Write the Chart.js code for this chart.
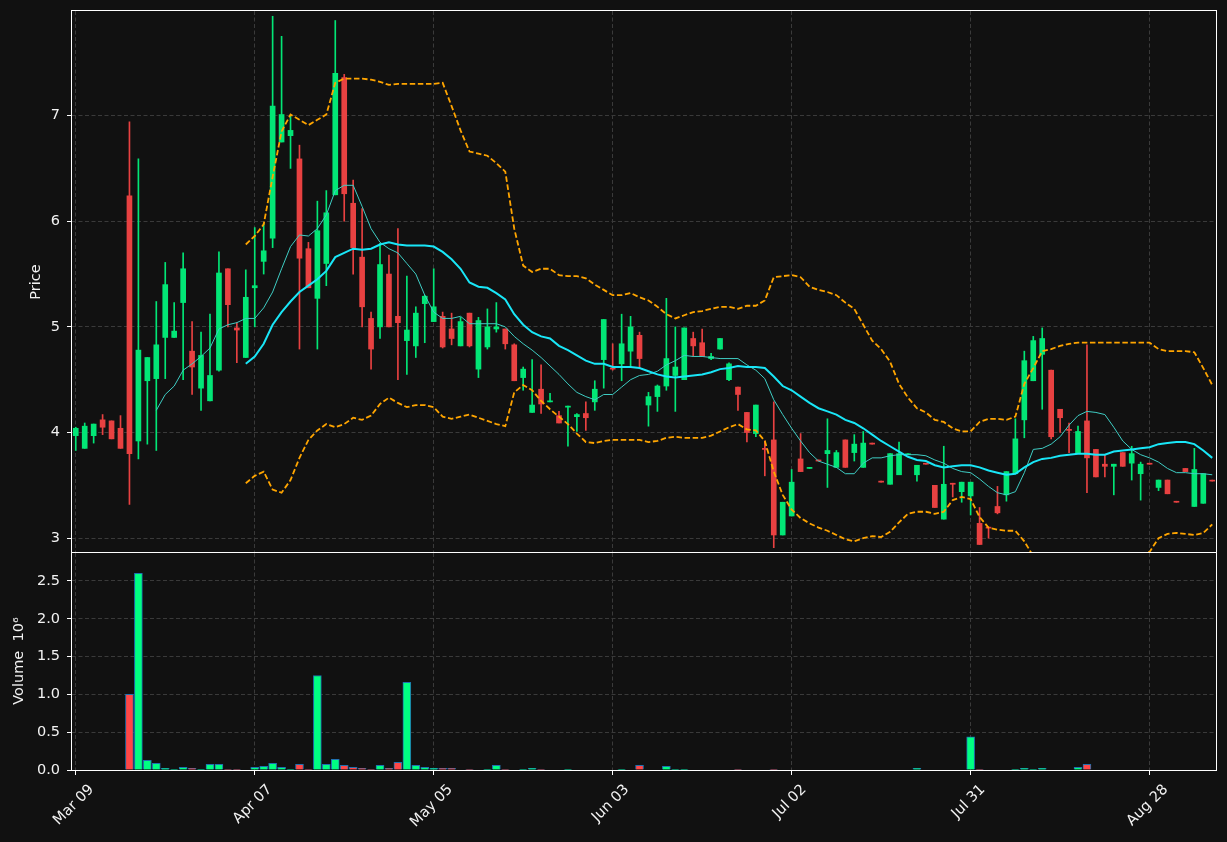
<!DOCTYPE html>
<html>
<head>
<meta charset="utf-8">
<script src="https://cdn.jsdelivr.net/npm/chart.js@4.4.0/dist/chart.umd.min.js"></script>
<style>
  html, body { margin: 0; padding: 0; background: #111111; }
  #wrap { position: relative; width: 1227px; height: 842px; background: #111111; overflow: hidden; }
  #priceChart { position: absolute; left: 0; top: 0; }
  #volChart { position: absolute; left: 0; top: 553px; }
</style>
</head>
<body>
<div id="wrap">
  <canvas id="priceChart" width="1227" height="553"></canvas>
  <canvas id="volChart" width="1227" height="289"></canvas>
</div>
<script>
// x tick positions (bar index) and their date labels
const tickIdx = [0, 20, 40, 60, 80, 100, 120]
const tickLabels = ['Mar 09', 'Apr 07', 'May 05', 'Jun 03', 'Jul 02', 'Jul 31', 'Aug 28']

// daily OHLC, one entry per trading day (index 0 = Mar 09)
const opens = [
  3.97, 3.85, 3.97, 4.12, 4.11, 4.04, 6.24, 3.92, 4.49, 4.51,
  4.90, 4.90, 5.23, 4.77, 4.42, 4.30, 4.59, 5.55, 4.99, 4.71,
  5.37, 5.62, 5.84, 6.75, 6.81, 6.59, 5.74, 5.27, 5.60, 6.25,
  7.36, 6.17, 5.66, 5.08, 5.00, 5.50, 5.10, 4.87, 4.82, 5.22,
  5.05, 5.10, 4.98, 4.82, 5.13, 4.60, 4.81, 4.98, 4.98, 4.83,
  4.52, 4.19, 4.41, 4.29, 4.16, 4.24, 4.15, 4.18, 4.29, 4.69,
  4.61, 4.65, 4.77, 4.92, 4.26, 4.34, 4.44, 4.54, 4.50, 4.89,
  4.85, 4.70, 4.79, 4.50, 4.43, 4.19, 3.99, 3.85, 3.93, 3.03,
  3.21, 3.75, 3.66, 3.74, 3.80, 3.67, 3.93, 3.81, 3.67, 3.90,
  3.54, 3.51, 3.60, 3.79, 3.60, 3.705, 3.50, 3.18, 3.52, 3.44,
  3.40, 3.14, 3.10, 3.30, 3.41, 3.61, 4.12, 4.49, 4.74, 4.59,
  4.22, 4.03, 3.80, 4.11, 3.84, 3.70, 3.68, 3.81, 3.71, 3.61,
  3.705, 3.48, 3.55, 3.345, 3.66, 3.30, 3.33, 3.545
]
const highs = [
  4.05, 4.09, 4.08, 4.17, 4.11, 4.16, 6.94, 6.59, 4.71, 5.24,
  5.61, 5.23, 5.70, 5.05, 4.95, 5.12, 5.71, 5.55, 5.04, 5.54,
  5.94, 5.98, 7.94, 7.75, 7.00, 6.72, 5.80, 6.19, 6.29, 7.90,
  7.39, 6.39, 6.12, 5.14, 5.79, 5.68, 5.93, 5.48, 5.19, 5.30,
  5.55, 5.14, 5.13, 5.09, 5.13, 5.09, 5.17, 5.23, 4.98, 4.84,
  4.62, 4.69, 4.64, 4.37, 4.20, 4.25, 4.18, 4.29, 4.49, 5.07,
  4.84, 5.12, 5.10, 4.95, 4.38, 4.45, 5.27, 5.00, 4.99, 4.95,
  4.98, 4.75, 4.89, 4.66, 4.43, 4.19, 4.26, 3.92, 4.29, 3.34,
  3.65, 3.99, 3.67, 3.74, 4.13, 3.83, 3.93, 3.98, 4.01, 3.90,
  3.54, 3.80, 3.91, 3.79, 3.69, 3.705, 3.50, 3.87, 3.52, 3.53,
  3.53, 3.29, 3.10, 3.49, 3.63, 4.13, 4.77, 4.91, 4.99, 4.59,
  4.22, 4.09, 4.06, 4.83, 3.84, 3.79, 3.70, 3.81, 3.87, 3.72,
  3.705, 3.55, 3.55, 3.345, 3.66, 3.85, 3.61, 3.545
]
const lows = [
  3.83, 3.85, 3.90, 3.98, 3.94, 3.85, 3.32, 3.75, 3.89, 3.83,
  4.51, 4.90, 4.50, 4.36, 4.21, 4.30, 4.58, 5.00, 4.66, 4.71,
  5.00, 5.50, 5.75, 6.75, 6.50, 4.79, 5.37, 4.79, 5.39, 6.25,
  6.00, 5.50, 5.00, 4.60, 4.89, 5.00, 4.50, 4.55, 4.71, 4.85,
  5.05, 4.80, 4.83, 4.82, 4.81, 4.52, 4.79, 4.95, 4.79, 4.49,
  4.40, 4.19, 4.18, 4.29, 4.09, 3.87, 4.01, 4.02, 4.21, 4.42,
  4.59, 4.49, 4.62, 4.61, 4.06, 4.20, 4.40, 4.20, 4.50, 4.72,
  4.72, 4.69, 4.79, 4.49, 4.21, 3.91, 3.96, 3.59, 2.91, 3.03,
  3.21, 3.63, 3.66, 3.73, 3.48, 3.67, 3.67, 3.73, 3.67, 3.89,
  3.53, 3.51, 3.60, 3.79, 3.54, 3.70, 3.29, 3.18, 3.39, 3.34,
  3.22, 2.94, 3.00, 3.23, 3.35, 3.61, 3.95, 4.49, 4.22, 3.94,
  4.00, 3.81, 3.80, 3.43, 3.58, 3.58, 3.41, 3.68, 3.55, 3.36,
  3.70, 3.45, 3.42, 3.34, 3.63, 3.30, 3.33, 3.54
]
const closes = [
  4.04, 4.06, 4.08, 4.05, 3.94, 3.85, 3.80, 4.78, 4.71, 4.83,
  5.40, 4.96, 5.55, 4.62, 4.73, 4.54, 5.51, 5.21, 4.97, 5.28,
  5.39, 5.72, 7.09, 7.01, 6.86, 5.65, 5.37, 5.91, 6.08, 7.40,
  6.26, 5.75, 5.19, 4.79, 5.59, 5.00, 5.04, 4.97, 5.13, 5.29,
  5.19, 4.81, 4.89, 5.05, 4.82, 5.06, 5.00, 5.00, 4.84, 4.49,
  4.60, 4.26, 4.27, 4.30, 4.09, 4.25, 4.17, 4.14, 4.41, 5.07,
  4.60, 4.84, 5.00, 4.70, 4.34, 4.44, 4.70, 4.62, 4.99, 4.82,
  4.72, 4.72, 4.89, 4.65, 4.36, 4.00, 4.26, 3.84, 3.03, 3.34,
  3.53, 3.63, 3.67, 3.73, 3.83, 3.81, 3.67, 3.89, 3.90, 3.89,
  3.53, 3.80, 3.80, 3.79, 3.69, 3.70, 3.29, 3.51, 3.51, 3.53,
  3.53, 2.94, 3.095, 3.24, 3.63, 3.94, 4.68, 4.87, 4.89, 3.96,
  4.14, 4.02, 4.01, 3.76, 3.58, 3.68, 3.70, 3.68, 3.80, 3.70,
  3.70, 3.55, 3.42, 3.34, 3.63, 3.65, 3.61, 3.54
]
// volume in millions
const volumes = [
  0, 0, 0, 0, 0, 0, 1.00, 2.60, 0.128, 0.088,
  0.022, 0.003, 0.035, 0.022, 0.009, 0.075, 0.075, 0.009, 0.009, 0,
  0.035, 0.048, 0.088, 0.035, 0.009, 0.075, 0.009, 1.25, 0.075, 0.14,
  0.062, 0.035, 0.022, 0.009, 0.062, 0.022, 0.10, 1.16, 0.062, 0.035,
  0.022, 0.022, 0.022, 0, 0.009, 0, 0.009, 0.062, 0.009, 0,
  0.009, 0.022, 0.009, 0, 0, 0.009, 0, 0, 0, 0,
  0, 0.009, 0, 0.062, 0, 0, 0.048, 0.009, 0.009, 0,
  0, 0, 0, 0, 0.009, 0, 0, 0, 0.009, 0,
  0, 0, 0, 0, 0, 0, 0, 0, 0, 0,
  0, 0, 0, 0, 0.022, 0, 0, 0, 0, 0,
  0.44, 0.009, 0, 0, 0, 0.009, 0.022, 0.009, 0.022, 0,
  0, 0, 0.035, 0.075, 0, 0, 0, 0, 0, 0,
  0, 0, 0, 0, 0, 0, 0, 0
]

// moving averages (10 day starts at bar 9, 20 day + bands at bar 19)
const ma10Start = 9
const ma10 = [
  4.21,
  4.36, 4.44, 4.59, 4.65, 4.72, 4.80, 4.98, 5.02, 5.04, 5.08,
  5.08, 5.18, 5.33, 5.55, 5.76, 5.87, 5.86, 5.93, 6.06, 6.29,
  6.34, 6.34, 6.14, 5.93, 5.80, 5.74, 5.70, 5.60, 5.50, 5.30,
  5.14, 5.08, 5.08, 5.10, 5.03, 5.03, 5.03, 5.03, 5.00, 4.91,
  4.84, 4.78, 4.71, 4.63, 4.55, 4.46, 4.38, 4.34, 4.31, 4.36,
  4.36, 4.43, 4.50, 4.54, 4.55, 4.58, 4.64, 4.68, 4.73, 4.72,
  4.72, 4.71, 4.70, 4.70, 4.70, 4.64, 4.59, 4.51, 4.31, 4.17,
  4.04, 3.92, 3.81, 3.73, 3.70, 3.67, 3.61, 3.61, 3.71, 3.76,
  3.76, 3.78, 3.79, 3.79, 3.79, 3.78, 3.74, 3.71, 3.66, 3.63,
  3.62, 3.56, 3.49, 3.43, 3.41, 3.44, 3.62, 3.84, 3.85, 3.89,
  3.96, 4.07, 4.16, 4.20, 4.19, 4.17, 4.05, 3.92, 3.84, 3.79,
  3.76, 3.72, 3.66, 3.62, 3.62, 3.61, 3.61, 3.60
]
const ma20Start = 19
const ma20 = [
  4.65,
  4.72, 4.84, 5.02, 5.14, 5.24, 5.33, 5.39, 5.45, 5.53, 5.66,
  5.70, 5.74, 5.73, 5.74, 5.78, 5.80, 5.78, 5.77, 5.77, 5.77,
  5.76, 5.71, 5.64, 5.55, 5.42, 5.38, 5.37, 5.32, 5.26, 5.12,
  5.02, 4.95, 4.91, 4.89, 4.82, 4.78, 4.73, 4.68, 4.65, 4.65,
  4.62, 4.62, 4.62, 4.61, 4.58, 4.55, 4.53, 4.52, 4.53, 4.54,
  4.55, 4.57, 4.60, 4.61, 4.63, 4.62, 4.62, 4.61, 4.53, 4.44,
  4.40, 4.34, 4.28, 4.23, 4.20, 4.17, 4.12, 4.09, 4.04, 3.98,
  3.92, 3.87, 3.82, 3.77, 3.74, 3.73, 3.69, 3.67, 3.68, 3.69,
  3.69, 3.67, 3.64, 3.62, 3.60, 3.61, 3.67, 3.72, 3.75, 3.76,
  3.78, 3.79, 3.80, 3.80, 3.79, 3.79, 3.82, 3.83, 3.84, 3.85,
  3.86, 3.89, 3.90, 3.91, 3.91, 3.89, 3.83, 3.76
]
const bbUpper = [
  5.78,
  5.86, 5.97, 6.42, 6.85, 7.01, 6.96, 6.91, 6.96, 7.01, 7.31,
  7.35, 7.35, 7.35, 7.34, 7.32, 7.29, 7.30, 7.30, 7.30, 7.30,
  7.30, 7.31, 7.09, 6.86, 6.66, 6.64, 6.62, 6.55, 6.47, 5.93,
  5.58, 5.52, 5.55, 5.55, 5.49, 5.48, 5.48, 5.46, 5.40, 5.35,
  5.30, 5.30, 5.32, 5.28, 5.25, 5.19, 5.12, 5.08, 5.11, 5.14,
  5.15, 5.17, 5.19, 5.19, 5.17, 5.20, 5.20, 5.25, 5.47, 5.48,
  5.49, 5.47, 5.38, 5.35, 5.33, 5.30, 5.23, 5.17, 5.02, 4.87,
  4.79, 4.67, 4.46, 4.33, 4.23, 4.19, 4.12, 4.10, 4.04, 4.01,
  4.01, 4.10, 4.13, 4.13, 4.12, 4.15, 4.46, 4.61, 4.77, 4.79,
  4.82, 4.84, 4.85, 4.85, 4.85, 4.85, 4.85, 4.85, 4.85, 4.85,
  4.85, 4.79, 4.77, 4.77, 4.77, 4.76, 4.61, 4.45
]
const bbLower = [
  3.52,
  3.59, 3.63, 3.46, 3.43, 3.55, 3.76, 3.93, 4.02, 4.08, 4.05,
  4.08, 4.14, 4.12, 4.16, 4.27, 4.33, 4.28, 4.24, 4.26, 4.26,
  4.24, 4.15, 4.13, 4.15, 4.17, 4.14, 4.11, 4.08, 4.06, 4.38,
  4.45, 4.40, 4.30, 4.22, 4.15, 4.08, 3.99, 3.91, 3.90, 3.92,
  3.93, 3.93, 3.93, 3.93, 3.91, 3.92, 3.95, 3.96, 3.95, 3.95,
  3.95, 3.97, 4.01, 4.05, 4.08, 4.03, 4.02, 3.92, 3.63, 3.41,
  3.27, 3.19, 3.14, 3.10, 3.07, 3.03, 2.99, 2.97, 3.00, 3.02,
  3.01, 3.06, 3.15, 3.23, 3.25, 3.25, 3.23, 3.25, 3.36, 3.39,
  3.37, 3.20, 3.10, 3.08, 3.07, 3.07, 2.97, 2.83, 2.73, 2.73,
  2.74, 2.74, 2.75, 2.75, 2.73, 2.73, 2.79, 2.81, 2.83, 2.85,
  2.87, 3.00, 3.04, 3.05, 3.04, 3.03, 3.05, 3.13
]

const upCandle = '#02e676'
const downCandle = '#e84141'
const upVol = '#00ff82'
const downVol = '#ff4646'
const gridColor = '#3a3a3a'
const fontFamily = '"DejaVu Sans", "Liberation Sans", sans-serif'
const fontSize = 14.5

Chart.defaults.font.family = fontFamily
Chart.defaults.font.size = fontSize
Chart.defaults.color = '#f2f2f2'

const isUp = (i) => closes[i] >= opens[i]
const candleColors = opens.map((o, i) => isUp(i) ? upCandle : downCandle)
const volColors = opens.map((o, i) => isUp(i) ? upVol : downVol)

const toPoints = (arr, start) => arr.map((v, k) => ({ x: k + start, y: v }))

// white box round the plot area
const framePlugin = {
  id: 'frame',
  afterDraw(chart) {
    const { ctx, chartArea: a } = chart
    ctx.save()
    ctx.strokeStyle = '#ffffff'
    ctx.lineWidth = 1
    ctx.strokeRect(a.left - 0.5, a.top - 0.5, a.right - a.left + 1, a.bottom - a.top + 1)
    ctx.restore()
  }
}

// rotated axis titles
const titlePlugin = {
  id: 'axisTitle',
  afterDraw(chart, args, opts) {
    const { ctx } = chart
    ctx.save()
    ctx.fillStyle = '#f2f2f2'
    ctx.font = fontSize + 'px ' + fontFamily
    ctx.translate(opts.x, opts.y)
    ctx.rotate(-Math.PI / 2)
    ctx.textAlign = 'center'
    ctx.textBaseline = 'middle'
    ctx.fillText(opts.text, 0, 0)
    ctx.restore()
  }
}

// date labels at 45 degrees, centred on the tick like matplotlib
const dateLabelPlugin = {
  id: 'dateLabels',
  afterDraw(chart) {
    const { ctx, chartArea } = chart
    const xs = chart.scales.x
    ctx.save()
    ctx.fillStyle = '#f2f2f2'
    ctx.font = fontSize + 'px ' + fontFamily
    tickIdx.forEach((v, k) => {
      const txt = tickLabels[k]
      const w = ctx.measureText(txt).width
      const side = (w + 15) * Math.SQRT1_2
      const cx = xs.getPixelForValue(v) - 2
      const cy = chartArea.bottom + 12 + side / 2
      ctx.save()
      ctx.translate(cx, cy)
      ctx.rotate(-Math.PI / 4)
      ctx.textAlign = 'center'
      ctx.textBaseline = 'middle'
      ctx.fillText(txt, 0, 0)
      ctx.restore()
    })
    ctx.restore()
  }
}

const fixY = (scale) => { scale.width = 72; scale.paddingTop = 0; scale.paddingBottom = 0 }

const xMin = -0.42
const xMax = 127.42

const priceChart = new Chart(document.getElementById('priceChart'), {
  type: 'bar',
  data: {
    datasets: [
      {
        type: 'line', order: 0, data: toPoints(bbUpper, ma20Start),
        borderColor: '#ffa500', borderWidth: 1.8, borderDash: [5.5, 2.6],
        pointRadius: 0, tension: 0, fill: false
      },
      {
        type: 'line', order: 0, data: toPoints(bbLower, ma20Start),
        borderColor: '#ffa500', borderWidth: 1.8, borderDash: [5.5, 2.6],
        pointRadius: 0, tension: 0, fill: false
      },
      {
        type: 'line', order: 0, data: toPoints(ma20, ma20Start),
        borderColor: '#19e6f7', borderWidth: 2, pointRadius: 0, tension: 0, fill: false
      },
      {
        type: 'line', order: 0, data: toPoints(ma10, ma10Start),
        borderColor: '#3fcdc4', borderWidth: 1, pointRadius: 0, tension: 0, fill: false
      },
      {
        order: 1, grouped: false,
        data: opens.map((o, i) => ({ x: i, y: [o, closes[i]] })),
        backgroundColor: candleColors, borderWidth: 0,
        barThickness: 5, minBarLength: 1
      },
      {
        order: 2, grouped: false,
        data: lows.map((l, i) => ({ x: i, y: [l, highs[i]] })),
        backgroundColor: candleColors, borderWidth: 0,
        barThickness: 1, minBarLength: 1
      }
    ]
  },
  options: {
    responsive: false,
    animation: false,
    devicePixelRatio: 1,
    layout: { padding: { top: 11, right: 11, bottom: 1, left: 0 } },
    plugins: {
      legend: { display: false },
      tooltip: { enabled: false },
      axisTitle: { text: 'Price', x: 36, y: 282 }
    },
    scales: {
      x: {
        type: 'linear', min: xMin, max: xMax, offset: false,
        afterBuildTicks: (axis) => { axis.ticks = tickIdx.map(v => ({ value: v })) },
        afterFit: (scale) => { scale.height = 0; scale.paddingLeft = 0; scale.paddingRight = 0 },
        ticks: { display: false },
        grid: { color: gridColor, drawTicks: false, offset: false },
        border: { display: false, dash: [4, 2.5] }
      },
      y: {
        min: 2.869, max: 7.99,
        afterBuildTicks: (axis) => { axis.ticks = [3, 4, 5, 6, 7].map(v => ({ value: v })) },
        afterFit: fixY,
        ticks: { padding: 7, callback: (v) => String(v) },
        grid: { color: gridColor, tickLength: 5, tickColor: '#ffffff', tickBorderDash: [] },
        border: { display: false, dash: [4, 2.5] }
      }
    }
  },
  plugins: [framePlugin, titlePlugin]
})

const volChart = new Chart(document.getElementById('volChart'), {
  type: 'bar',
  data: {
    datasets: [{
      grouped: false,
      data: volumes.map((v, i) => ({ x: i, y: v })),
      backgroundColor: volColors,
      borderColor: '#1f70b0',
      borderWidth: 1,
      barThickness: 8
    }]
  },
  options: {
    responsive: false,
    animation: false,
    devicePixelRatio: 1,
    layout: { padding: { top: 0, right: 11, bottom: 0, left: 0 } },
    plugins: {
      legend: { display: false },
      tooltip: { enabled: false },
      axisTitle: { text: 'Volume  10\u2076', x: 19, y: 108 }
    },
    scales: {
      x: {
        type: 'linear', min: xMin, max: xMax, offset: false,
        afterBuildTicks: (axis) => { axis.ticks = tickIdx.map(v => ({ value: v })) },
        afterFit: (scale) => { scale.height = 72; scale.paddingLeft = 0; scale.paddingRight = 0 },
        ticks: { display: false },
        grid: { color: gridColor, tickLength: 5, tickColor: '#ffffff', tickBorderDash: [], offset: false },
        border: { display: false, dash: [4, 2.5] }
      },
      y: {
        min: 0, max: 2.870,
        afterBuildTicks: (axis) => { axis.ticks = [0, 0.5, 1, 1.5, 2, 2.5].map(v => ({ value: v })) },
        afterFit: fixY,
        ticks: { padding: 7, callback: (v) => Number(v).toFixed(1) },
        grid: { color: gridColor, tickLength: 5, tickColor: '#ffffff', tickBorderDash: [] },
        border: { display: false, dash: [4, 2.5] }
      }
    }
  },
  plugins: [framePlugin, titlePlugin, dateLabelPlugin]
})
</script>
</body>
</html>
